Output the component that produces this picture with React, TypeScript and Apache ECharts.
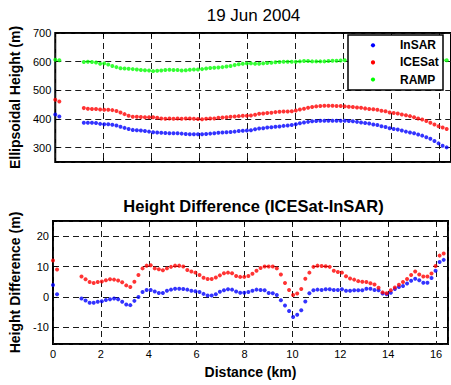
import React, { useEffect, useRef } from "react";
import * as echarts from "echarts";

// Along-track distance of each sample (km)
const distanceKm = [
  0, 0.17,
  1.19, 1.36, 1.53, 1.7, 1.87, 2.04, 2.21, 2.38, 2.55, 2.72,
  2.89, 3.06, 3.23, 3.4, 3.57, 3.74, 3.91, 4.08, 4.25, 4.42,
  4.59, 4.76, 4.93, 5.1, 5.27, 5.44, 5.61, 5.78, 5.95, 6.12,
  6.29, 6.46, 6.63, 6.8, 6.97, 7.14, 7.31, 7.48, 7.65, 7.82,
  7.99, 8.16, 8.33, 8.5, 8.67, 8.84, 9.01, 9.18, 9.35, 9.52,
  9.69, 9.86, 10.03, 10.2, 10.37, 10.54, 10.71, 10.88, 11.05, 11.22,
  11.39, 11.56, 11.73, 11.9, 12.07, 12.24, 12.41, 12.58, 12.75, 12.92,
  13.09, 13.26, 13.43, 13.6, 13.77, 13.94, 14.11, 14.28, 14.45, 14.62,
  14.79, 14.96, 15.13, 15.3, 15.47, 15.64, 15.81, 15.98, 16.15, 16.32,
];

// Ellipsoidal heights (m)
const insarHeight = [
  416, 409,
  387, 387, 387, 386, 383, 382, 382, 380, 377, 373,
  369, 365, 362, 361, 360, 358, 356, 354, 353, 352,
  351, 350, 350, 350, 349, 348, 347, 347, 347, 347,
  348, 349, 350, 352, 353, 354, 355, 356, 358, 359,
  360, 361, 364, 367, 368, 370, 371, 373, 374, 376,
  377, 379, 382, 385, 388, 390, 392, 393, 394, 394,
  394, 394, 394, 394, 394, 393, 392, 390, 388, 386,
  384, 381, 379, 375, 372, 368, 365, 363, 360, 356,
  353, 350, 346, 342, 336, 331, 323, 315, 307, 301,
];

const icesatHeight = [
  467, 461,
  438, 436, 435, 435, 433, 432, 432, 431, 428, 423,
  417, 411, 408, 408, 407, 406, 406, 406, 404, 402,
  401, 402, 401, 402, 401, 402, 402, 401, 400, 399,
  401, 402, 402, 404, 405, 406, 408, 409, 410, 411,
  411, 412, 415, 418, 419, 421, 422, 424, 425, 426,
  426, 427, 430, 433, 436, 439, 442, 444, 445, 446,
  446, 446, 445, 445, 444, 443, 442, 440, 439, 437,
  435, 434, 432, 429, 427, 423, 421, 419, 416, 413,
  410, 406, 402, 398, 393, 387, 381, 375, 370, 365,
];

// RAMP samples hidden under the legend box are left empty
const rampHeight = [
  607, 605,
  599, 600, 599, 597, 593, 594, 590, 585, 581, 577,
  576, 575, 574, 573, 571, 570, 569, 567, 568, 569,
  571, 572, 571, 571, 569, 570, 572, 573, 573, 574,
  576, 578, 579, 580, 581, 583, 585, 588, 591, 593,
  594, 594, 593, 593, 594, 595, 596, 598, 599, 600,
  600, 600, 600, 601, 602, 602, 601, 601, 601, 601,
  602, 603, 603, 604, 605, null, null, null, null, null,
  null, null, null, null, null, null, null, null, null, null,
  null, null, null, null, null, null, null, null, 605, 605,
];

// Height differences (m)
const icesatDiff = [
  12.0, 9.0,
  6.7, 5.8, 4.9, 4.6, 4.9, 5.1, 5.5, 5.8, 5.7, 5.4,
  4.8, 3.8, 3.3, 5.0, 7.2, 9.4, 10.3, 10.4, 9.4, 9.1,
  8.8, 9.4, 9.9, 10.3, 10.3, 10.0, 8.9, 8.4, 8.0, 7.2,
  6.3, 5.9, 5.9, 6.4, 7.1, 7.8, 8.0, 7.8, 6.9, 6.6,
  6.6, 6.9, 7.6, 8.6, 9.5, 10.0, 10.0, 10.0, 9.4, 7.4,
  4.6, 2.3, 0.6, 1.1, 2.6, 6.0, 8.0, 9.9, 10.3, 10.2,
  10.1, 9.9, 8.6, 8.2, 8.0, 6.8, 6.1, 5.7, 5.2, 5.0,
  4.9, 4.5, 4.1, 3.0, 1.5, 1.2, 2.2, 3.1, 4.0, 4.9,
  5.9, 7.2, 8.4, 7.4, 6.7, 6.7, 7.7, 10.2, 13.6, 14.3,
];

const insarDiff = [
  3.9, 0.9,
  -0.5, -1.2, -1.9, -1.9, -1.6, -1.4, -1.0, -0.8, -0.5, -0.8,
  -1.6, -2.5, -2.7, -1.3, 0.0, 1.6, 2.3, 2.3, 1.8, 1.3,
  1.3, 2.0, 2.4, 2.7, 2.7, 2.6, 2.4, 2.0, 1.9, 1.6,
  1.0, 0.5, 0.5, 0.9, 1.7, 2.2, 2.5, 2.4, 1.8, 1.4,
  1.4, 1.6, 2.0, 2.4, 2.3, 2.2, 1.3, 1.2, 0.6, -1.1,
  -2.8, -4.6, -6.6, -5.9, -4.4, -1.5, 1.2, 2.2, 2.4, 2.3,
  2.5, 2.5, 2.3, 2.3, 2.5, 2.0, 2.0, 2.2, 2.2, 2.2,
  2.7, 2.7, 2.3, 2.2, 1.1, 0.9, 1.4, 2.6, 3.3, 3.6,
  4.4, 5.3, 6.0, 5.5, 4.7, 4.7, 6.2, 8.6, 11.5, 12.2,
];

// Tick labels
const distanceTicks = [0, 2, 4, 6, 8, 10, 12, 14, 16];
const heightTicks = [300, 400, 500, 600, 700];
const diffTicks = [-10, 0, 10, 20];

// Legend entries
const legendNames = ["InSAR", "ICESat", "RAMP"];
const legendColors = ["#0000ff", "#ff0000", "#00ff00"];

const FONT = '"Liberation Sans", Arial, Helvetica, sans-serif';

const pairs = (ys: (number | null)[]) =>
  distanceKm
    .map((x, i) => (ys[i] == null ? null : [x, ys[i] as number]))
    .filter((p) => p !== null) as number[][];

const tickFormatter = (ticks: number[]) => (v: number) =>
  ticks.some((t) => Math.abs(t - v) < 1e-6) ? String(v) : "";

const gridLine = {
  show: true,
  lineStyle: { color: "#1a1a1a", width: 1, type: [6, 4] as number[] },
};

const tickStyle = {
  show: true,
  inside: true,
  length: 4,
  lineStyle: { color: "#000", width: 1 },
};

const labelStyle = {
  color: "#000",
  fontSize: 11,
  fontFamily: FONT,
  margin: 4,
};

const nameStyle = {
  color: "#000",
  fontSize: 14,
  fontWeight: "bold" as const,
  fontFamily: FONT,
};

const xBase = (gridIndex: number) => ({
  type: "value" as const,
  gridIndex,
  min: 0,
  max: 16.5,
  interval: 2,
  axisLine: { show: false },
});

const dotSeries = (
  name: string,
  color: string,
  data: number[][],
  xAxisIndex: number,
  yAxisIndex: number
) => ({
  name,
  type: "scatter" as const,
  xAxisIndex,
  yAxisIndex,
  data,
  symbol: "circle",
  symbolSize: 4,
  itemStyle: { color },
  emphasis: { disabled: true },
  silent: true,
});

// Boxed legend in the upper right of the height panel, drawn above the plot
const LEGEND_Z = 100;
const legendBox = {
  type: "group",
  silent: true,
  children: [
    {
      type: "rect",
      z: LEGEND_Z,
      shape: { x: 348, y: 35, width: 95, height: 55 },
      style: { fill: "#fff", stroke: "#000", lineWidth: 1.5 },
    },
    ...legendNames.flatMap((name, i) => [
      {
        type: "circle",
        z: LEGEND_Z + 1,
        shape: { cx: 373, cy: 45.3 + i * 17.1, r: 2.1 },
        style: { fill: legendColors[i] },
      },
      {
        type: "text",
        z: LEGEND_Z + 1,
        style: {
          text: name,
          x: 400,
          y: 45.3 + i * 17.1,
          align: "left",
          verticalAlign: "middle",
          fill: "#000",
          fontSize: 12,
          fontWeight: "bold",
          fontFamily: FONT,
        },
      },
    ]),
  ],
};

export default function App() {
  const ref = useRef<HTMLDivElement>(null);

  useEffect(() => {
    document.body.style.margin = "0";
    const chart = echarts.init(ref.current!, null, { renderer: "svg" });

    chart.setOption({
      animation: false,
      backgroundColor: "#fff",
      textStyle: { fontFamily: FONT },
      grid: [
        {
          left: 53,
          top: 33,
          width: 401,
          height: 129,
          show: true,
          borderColor: "#000",
          borderWidth: 2,
          backgroundColor: "transparent",
        },
        {
          left: 53,
          top: 221,
          width: 401,
          height: 123,
          show: true,
          borderColor: "#000",
          borderWidth: 2,
          backgroundColor: "transparent",
        },
      ],
      xAxis: [
        {
          ...xBase(0),
          position: "bottom",
          axisTick: tickStyle,
          axisLabel: { show: false },
          splitLine: gridLine,
        },
        {
          ...xBase(0),
          position: "top",
          axisTick: tickStyle,
          axisLabel: { show: false },
          splitLine: { show: false },
        },
        {
          ...xBase(1),
          position: "bottom",
          axisTick: tickStyle,
          axisLabel: { ...labelStyle, formatter: tickFormatter(distanceTicks) },
          splitLine: gridLine,
          name: "Distance (km)",
          nameLocation: "middle",
          nameGap: 21,
          nameTextStyle: nameStyle,
        },
        {
          ...xBase(1),
          position: "top",
          axisTick: tickStyle,
          axisLabel: { show: false },
          splitLine: { show: false },
        },
      ],
      yAxis: [
        {
          type: "value",
          gridIndex: 0,
          min: 250,
          max: 700,
          splitNumber: 5,
          axisLine: { show: false },
          axisTick: tickStyle,
          axisLabel: { ...labelStyle, formatter: tickFormatter(heightTicks) },
          splitLine: gridLine,
          name: "Ellipsoidal Height (m)",
          nameLocation: "middle",
          nameGap: 24,
          nameTextStyle: nameStyle,
        },
        {
          type: "value",
          gridIndex: 1,
          min: -15.5,
          max: 25,
          splitNumber: 5,
          axisLine: { show: false },
          axisTick: tickStyle,
          axisLabel: { ...labelStyle, formatter: tickFormatter(diffTicks) },
          splitLine: gridLine,
          name: "Height Difference (m)",
          nameLocation: "middle",
          nameGap: 24,
          nameTextStyle: nameStyle,
        },
      ],
      graphic: [
        {
          type: "text",
          silent: true,
          style: {
            text: "19 Jun 2004",
            x: 253.5,
            y: 15,
            align: "center",
            verticalAlign: "middle",
            fill: "#000",
            fontSize: 17,
            fontFamily: FONT,
          },
        },
        {
          type: "text",
          silent: true,
          style: {
            text: "Height Difference (ICESat-InSAR)",
            x: 253.5,
            y: 206,
            align: "center",
            verticalAlign: "middle",
            fill: "#000",
            fontSize: 16.5,
            fontWeight: "bold",
            fontFamily: FONT,
          },
        },
        legendBox,
      ],
      series: [
        dotSeries(legendNames[0], legendColors[0], pairs(insarHeight), 0, 0),
        dotSeries(legendNames[1], legendColors[1], pairs(icesatHeight), 0, 0),
        dotSeries(legendNames[2], legendColors[2], pairs(rampHeight), 0, 0),
        dotSeries("InSAR difference", legendColors[0], pairs(insarDiff), 2, 1),
        dotSeries("ICESat difference", legendColors[1], pairs(icesatDiff), 2, 1),
      ],
    });

    return () => chart.dispose();
  }, []);

  return <div ref={ref} style={{ width: 451, height: 385 }} />;
}
